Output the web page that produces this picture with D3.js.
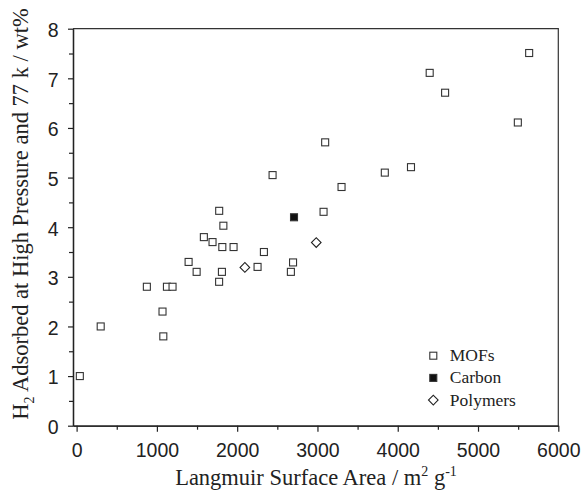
<!DOCTYPE html>
<html lang="en">
<head>
    <meta charset="UTF-8">
    <title>H2 uptake vs Langmuir surface area</title>
    <style>
        body { margin: 0; padding: 0; background: white; }
        .tick text { font-family: "Liberation Sans", Arial, sans-serif; font-size: 19.5px; fill: #222; }
        .serif { font-family: "Liberation Serif", "Times New Roman", serif; fill: #222; }
    </style>
</head>
<body>
    <svg id="chart" width="582" height="490"></svg>
    <script src="https://d3js.org/d3.v7.min.js"></script>
    <script>
        // data
        const seriesNames = ["MOFs", "Carbon", "Polymers"];

        const mofArea = [40, 300, 1070, 1080, 875, 1125, 1195, 1395, 1495, 1775, 1810, 1585, 1693, 1815, 1955,
                         1776, 1828, 2254, 2333, 2669, 2696, 2441, 3076, 3300, 3096, 3839, 4165, 4398, 4590, 5496, 5637];
        const mofH2 = [1.0, 2.0, 2.3, 1.8, 2.8, 2.8, 2.8, 3.3, 3.1, 2.9, 3.1, 3.8, 3.7, 3.6, 3.6,
                       4.33, 4.03, 3.2, 3.5, 3.1, 3.29, 5.05, 4.31, 4.81, 5.71, 5.1, 5.21, 7.11, 6.71, 6.11, 7.51];

        const carbonArea = [2708];
        const carbonH2 = [4.2];

        const polymerArea = [2096, 2985];
        const polymerH2 = [3.19, 3.69];

        const xTicks = [0, 1000, 2000, 3000, 4000, 5000, 6000];
        const xMinor = [500, 1500, 2500, 3500, 4500, 5500];
        const yTicks = [0, 1, 2, 3, 4, 5, 6, 7, 8];
        const yMinor = [0.5, 1.5, 2.5, 3.5, 4.5, 5.5, 6.5, 7.5];

        const width = 582, height = 490;
        const margin = {left: 73, top: 28.7, right: 23.7, bottom: 64.3};

        const svg = d3.select("#chart");

        const x = d3.scaleLinear().domain([-45, 6000]).range([margin.left, width - margin.right]);
        const y = d3.scaleLinear().domain([0, 8]).range([height - margin.bottom, margin.top]);

        const AXIS_COLOR = "#222";

        // frame (top + right)
        svg.append("path")
            .attr("d", `M${x.range()[0]},${y.range()[1]}H${x.range()[1]}V${y.range()[0]}`)
            .attr("fill", "none")
            .attr("stroke", "#333")
            .attr("stroke-width", 1.2);

        // bottom axis, major + minor
        const gx = svg.append("g")
            .attr("transform", `translate(0,${y.range()[0]})`)
            .call(d3.axisBottom(x).tickValues(xTicks).tickFormat(d3.format("d")).tickSize(6).tickPadding(11).tickSizeOuter(0));
        svg.append("g")
            .attr("transform", `translate(0,${y.range()[0]})`)
            .call(d3.axisBottom(x).tickValues(xMinor).tickFormat("").tickSize(4).tickSizeOuter(0));

        // left axis, major + minor
        const gy = svg.append("g")
            .attr("transform", `translate(${x.range()[0]},0)`)
            .call(d3.axisLeft(y).tickValues(yTicks).tickSize(5).tickPadding(9.5).tickSizeOuter(0));
        gy.selectAll(".tick text").attr("dy", "0.40em");
        svg.append("g")
            .attr("transform", `translate(${x.range()[0]},0)`)
            .call(d3.axisLeft(y).tickValues(yMinor).tickFormat("").tickSize(4).tickSizeOuter(0));

        svg.selectAll(".domain").attr("stroke", AXIS_COLOR).attr("stroke-width", 1.3);
        svg.selectAll(".tick line").attr("stroke", AXIS_COLOR).attr("stroke-width", 1.2);

        // axis titles
        const xTitle = svg.append("text")
            .attr("class", "serif")
            .attr("x", 316)
            .attr("y", 485)
            .attr("text-anchor", "middle")
            .attr("font-size", "22.5px");
        xTitle.append("tspan").text("Langmuir Surface Area / m");
        xTitle.append("tspan").attr("dy", -9).attr("font-size", "14px").text("2");
        xTitle.append("tspan").attr("dy", 9).text(" g");
        xTitle.append("tspan").attr("dy", -9).attr("font-size", "14px").text("-1");

        const yTitle = svg.append("text")
            .attr("class", "serif")
            .attr("transform", "translate(28,214) rotate(-90)")
            .attr("text-anchor", "middle")
            .attr("font-size", "22.5px");
        yTitle.append("tspan").text("H");
        yTitle.append("tspan").attr("dy", 6).attr("font-size", "14px").text("2");
        yTitle.append("tspan").attr("dy", -6).text(" Adsorbed at High Pressure and 77 k / wt%");

        // points
        const SQ = 7;
        const mofs = mofArea.map((a, i) => ({x: a, y: mofH2[i]}));
        const carbons = carbonArea.map((a, i) => ({x: a, y: carbonH2[i]}));
        const polymers = polymerArea.map((a, i) => ({x: a, y: polymerH2[i]}));

        function drawSquare(sel, fill) {
            sel.append("rect")
                .attr("x", -SQ / 2).attr("y", -SQ / 2)
                .attr("width", SQ).attr("height", SQ)
                .attr("fill", fill)
                .attr("stroke", "#333")
                .attr("stroke-width", 1.1);
        }
        function drawDiamond(sel) {
            sel.append("rect")
                .attr("x", -3.4).attr("y", -3.4)
                .attr("width", 6.8).attr("height", 6.8)
                .attr("transform", "rotate(45)")
                .attr("fill", "white")
                .attr("stroke", "#222")
                .attr("stroke-width", 1.1);
        }

        const pts = svg.append("g");
        pts.selectAll("g.mof").data(mofs).enter().append("g")
            .attr("class", "mof")
            .attr("transform", d => `translate(${x(d.x)},${y(d.y)})`)
            .call(drawSquare, "white");
        pts.selectAll("g.carbon").data(carbons).enter().append("g")
            .attr("class", "carbon")
            .attr("transform", d => `translate(${x(d.x)},${y(d.y)})`)
            .call(drawSquare, "#111");
        pts.selectAll("g.poly").data(polymers).enter().append("g")
            .attr("class", "poly")
            .attr("transform", d => `translate(${x(d.x)},${y(d.y)})`)
            .call(drawDiamond);

        // legend
        const legend = svg.append("g").attr("transform", "translate(433.3,355.7)");
        seriesNames.forEach(function(name, i) {
            const row = legend.append("g").attr("transform", `translate(0,${i * 22.2})`);
            if (i == 0) drawSquare(row, "white");
            else if (i == 1) drawSquare(row, "#111");
            else drawDiamond(row);
            row.append("text")
                .attr("class", "serif")
                .attr("x", 16.5)
                .attr("y", 5.5)
                .attr("font-size", "17.5px")
                .text(name);
        });
    </script>
</body>
</html>
